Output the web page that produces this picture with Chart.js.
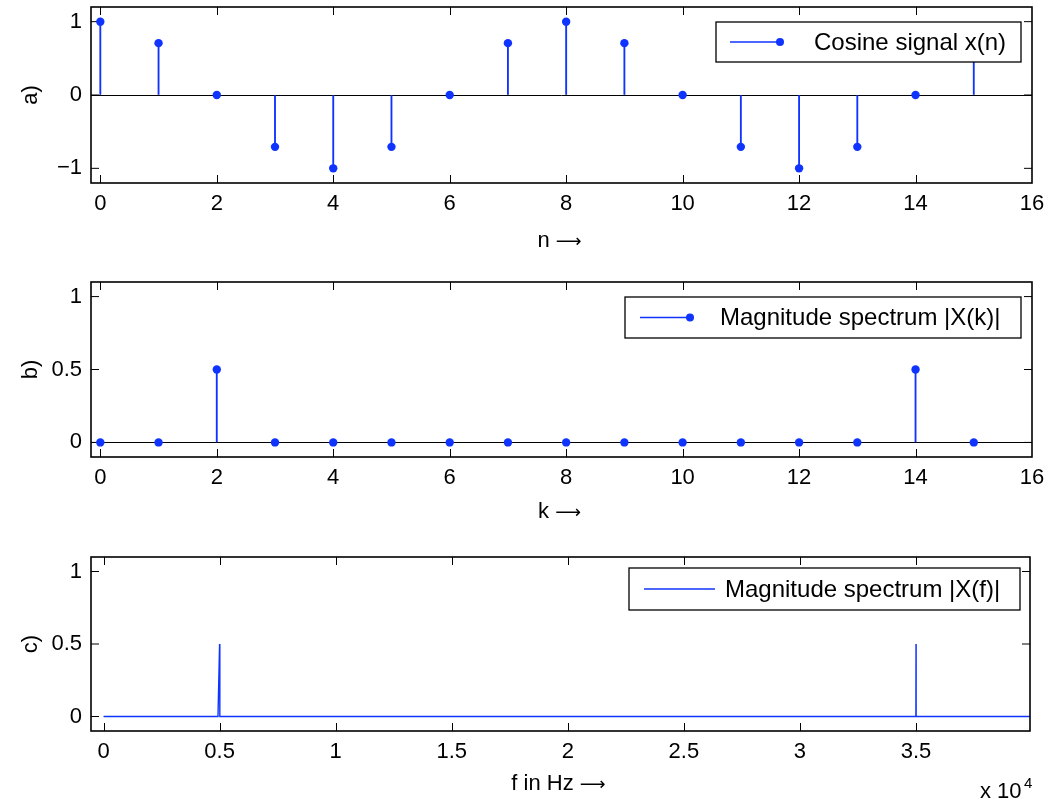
<!DOCTYPE html>
<html><head><meta charset="utf-8">
<script src="https://cdn.jsdelivr.net/npm/chart.js@4.4.1/dist/chart.umd.min.js"></script>
<style>
html,body{margin:0;padding:0;background:#fff;}
#wrap{position:relative;width:1045px;height:800px;overflow:hidden;background:#fff;}
canvas{position:absolute;left:0;}
</style></head><body>
<div id="wrap">
<canvas id="ca" width="1045" height="270" style="top:0px"></canvas>
<canvas id="cb" width="1045" height="270" style="top:274px"></canvas>
<canvas id="cc" width="1045" height="251" style="top:549px"></canvas>
</div>
<script>
// ---------- data ----------
const nValues = [0,1,2,3,4,5,6,7,8,9,10,11,12,13,14,15];
const cosineValues = [1,0.7071,0,-0.7071,-1,-0.7071,0,0.7071,1,0.7071,0,-0.7071,-1,-0.7071,0,0.7071];
const kValues = [0,1,2,3,4,5,6,7,8,9,10,11,12,13,14,15];
const magnitudeK = [0,0,0.5,0,0,0,0,0,0,0,0,0,0,0,0.5,0];
const freqHz = [0,4930,5000,5010,34995,35000,35005,40000];
const magnitudeF = [0,0,0.5,0,0,0.5,0,0];

const nTickValues = [0,2,4,6,8,10,12,14,16];
const ampTickValues = [-1,0,1];
const ampTickLabels = ['\u22121','0','1'];
const magTickValues = [0,0.5,1];
const magTickLabels = ['0','0.5','1'];
const fTickValues = [0,5000,10000,15000,20000,25000,30000,35000];
const fTickLabels = ['0','0.5','1','1.5','2','2.5','3','3.5'];

// ---------- styling ----------
const BLUE = '#1034ff';
const FONT = '"Liberation Sans", Arial, Helvetica, sans-serif';
const ARROW_FONT = '"DejaVu Sans", sans-serif';
const ARROW = '\u27F6';
const TICK_FONT = {family: FONT, size: 22};
const LEG_FONT_SIZE = 24;

function pts(xs, ys){ return xs.map((x,i)=>({x:x, y:ys[i]})); }

function frameAndLegendPlugin(xTitle, legend, extra){
  return {
    id: 'frameLegend',
    beforeDatasetsDraw(chart){
      const ctx = chart.ctx, a = chart.chartArea;
      const xs = chart.scales.x, ys = chart.scales.y;
      ctx.save();
      ctx.strokeStyle = '#000'; ctx.lineWidth = 1;
      const TL = 8;
      ctx.beginPath();
      xs.ticks.forEach(t => {
        const p = Math.round(xs.getPixelForValue(t.value)) + 0.5;
        if (p < a.left || p > a.right) return;
        ctx.moveTo(p, a.bottom); ctx.lineTo(p, a.bottom - TL);
        ctx.moveTo(p, a.top); ctx.lineTo(p, a.top + TL);
      });
      ys.ticks.forEach(t => {
        const p = ys.getPixelForValue(t.value);
        if (p < a.top || p > a.bottom) return;
        ctx.moveTo(a.left, p); ctx.lineTo(a.left + TL, p);
        ctx.moveTo(a.right, p); ctx.lineTo(a.right - TL, p);
      });
      ctx.stroke();
      ctx.restore();
    },
    afterDraw(chart){
      const ctx = chart.ctx, a = chart.chartArea;
      ctx.save();
      // box
      ctx.strokeStyle = '#000';
      ctx.lineWidth = 1.6;
      ctx.strokeRect(a.left, a.top, a.right - a.left, a.bottom - a.top);
      // x axis title with a long arrow
      ctx.fillStyle = '#000';
      ctx.textBaseline = 'alphabetic'; ctx.textAlign = 'left';
      ctx.font = '22px ' + FONT;
      const w1 = ctx.measureText(xTitle.text + ' ').width;
      ctx.font = '18px ' + ARROW_FONT;
      const w2 = ctx.measureText(ARROW).width;
      const cx = (a.left + a.right) / 2 - 2;
      const x0 = cx - (w1 + w2) / 2;
      const base = a.bottom + xTitle.dy;
      ctx.font = '22px ' + FONT;
      ctx.fillText(xTitle.text + ' ', x0, base);
      ctx.font = '18px ' + ARROW_FONT;
      ctx.fillText(ARROW, x0 + w1, base);
      // legend
      if (legend){
        const bx = a.right - legend.rightInset - legend.w;
        const by = a.top + legend.topInset;
        ctx.fillStyle = '#fff';
        ctx.fillRect(bx, by, legend.w, legend.h);
        ctx.lineWidth = 1.3; ctx.strokeStyle = '#000';
        ctx.strokeRect(bx, by, legend.w, legend.h);
        const cy = by + legend.h/2;
        ctx.strokeStyle = BLUE; ctx.lineWidth = 1.3;
        ctx.beginPath();
        ctx.moveTo(bx + legend.l1, cy); ctx.lineTo(bx + legend.l2, cy);
        ctx.stroke();
        if (legend.marker){
          ctx.fillStyle = BLUE;
          ctx.beginPath(); ctx.arc(bx + legend.l2, cy, 4, 0, Math.PI*2); ctx.fill();
        }
        ctx.fillStyle = '#000';
        ctx.font = LEG_FONT_SIZE + 'px ' + FONT;
        ctx.textAlign = 'left'; ctx.textBaseline = 'middle';
        ctx.fillText(legend.text, bx + legend.tx, cy + 1);
      }
      if (extra) extra(ctx, chart);
      ctx.restore();
    }
  };
}

function makeOptions(cfg){
  return {
    responsive: false,
    animation: false,
    events: [],
    layout: {padding: {left: 0, top: cfg.padTop, right: cfg.padRight, bottom: 0}},
    plugins: {legend: {display: false}, tooltip: {enabled: false}},
    scales: {
      x: {
        type: 'linear', min: cfg.xmin, max: cfg.xmax, offset: false,
        grid: {display: false, drawTicks: false},
        border: {display: false},
        ticks: {font: TICK_FONT, color: '#000', padding: 8, maxRotation: 0,
          callback: (v, i) => cfg.xLabels ? cfg.xLabels[i] : String(v)},
        title: {display: false},
        afterBuildTicks: s => { s.ticks = cfg.xTicks.map(v => ({value: v})); },
        afterFit: s => { s.height = cfg.xAxisH; s.paddingLeft = 0; s.paddingRight = 0; }
      },
      y: {
        type: 'linear', min: cfg.ymin, max: cfg.ymax,
        grid: {display: true, drawTicks: false, lineWidth: 1,
          color: c => (cfg.zeroLine && c.tick && c.tick.value === 0) ? '#000' : 'rgba(0,0,0,0)'},
        border: {display: false},
        ticks: {font: TICK_FONT, color: '#000', padding: 9,
          callback: (v, i) => cfg.yLabels[i]},
        title: {display: true, text: cfg.yTitle, font: TICK_FONT, color: '#000',
          padding: {top: 18, bottom: 0}},
        afterBuildTicks: s => { s.ticks = cfg.yTicks.map(v => ({value: v})); },
        afterFit: s => { s.width = 91; s.paddingTop = 0; s.paddingBottom = 0; }
      }
    }
  };
}

function stemDatasets(xs, ys){
  return [
    {type: 'scatter', data: pts(xs, ys), pointRadius: 4.2, pointHoverRadius: 4.2,
     pointBackgroundColor: BLUE, pointBorderColor: BLUE, pointBorderWidth: 0, order: 0},
    {type: 'bar', data: pts(xs, ys), backgroundColor: BLUE, borderWidth: 0,
     barThickness: 1.2, order: 1}
  ];
}

// ---------- panel a ----------
new Chart(document.getElementById('ca'), {
  type: 'scatter',
  data: {datasets: stemDatasets(nValues, cosineValues)},
  options: makeOptions({padTop: 7, padRight: 13, xmin: -0.16, xmax: 16, ymin: -1.2, ymax: 1.2,
    xTicks: nTickValues, yTicks: ampTickValues, yLabels: ampTickLabels,
    yTitle: 'a)', xAxisH: 87, zeroLine: true}),
  plugins: [frameAndLegendPlugin({text: 'n', dy: 64},
    {rightInset: 11, topInset: 15, w: 305, h: 40,
    l1: 14, l2: 64, marker: true, tx: 98, text: 'Cosine signal x(n)'})]
});

// ---------- panel b ----------
new Chart(document.getElementById('cb'), {
  type: 'scatter',
  data: {datasets: stemDatasets(kValues, magnitudeK)},
  options: makeOptions({padTop: 8, padRight: 13, xmin: -0.16, xmax: 16, ymin: -0.1, ymax: 1.1,
    xTicks: nTickValues, yTicks: magTickValues, yLabels: magTickLabels,
    yTitle: 'b)', xAxisH: 87, zeroLine: true}),
  plugins: [frameAndLegendPlugin({text: 'k', dy: 61},
    {rightInset: 11, topInset: 15, w: 396, h: 41,
    l1: 15, l2: 65, marker: true, tx: 95, text: 'Magnitude spectrum |X(k)|'})]
});

// ---------- panel c ----------
new Chart(document.getElementById('cc'), {
  type: 'scatter',
  data: {datasets: [
    {type: 'line', data: pts(freqHz, magnitudeF), borderColor: BLUE, borderWidth: 1.4,
     pointRadius: 0, fill: false, tension: 0}
  ]},
  options: makeOptions({padTop: 8, padRight: 15, xmin: -540, xmax: 39910, ymin: -0.1, ymax: 1.1,
    xTicks: fTickValues, xLabels: fTickLabels, yTicks: magTickValues, yLabels: magTickLabels,
    yTitle: 'c)', xAxisH: 69, zeroLine: false}),
  plugins: [frameAndLegendPlugin({text: 'f in Hz', dy: 59},
    {rightInset: 10, topInset: 11, w: 391, h: 42,
    l1: 15, l2: 86, marker: false, tx: 96, text: 'Magnitude spectrum |X(f)|'},
    (ctx, chart) => {
      ctx.fillStyle = '#000';
      ctx.textAlign = 'left'; ctx.textBaseline = 'alphabetic';
      ctx.font = '22px ' + FONT;
      ctx.fillText('x 10', 980, 249);
      ctx.font = '15px ' + FONT;
      ctx.fillText('4', 1024, 239);
    })]
});
</script>
</body></html>
